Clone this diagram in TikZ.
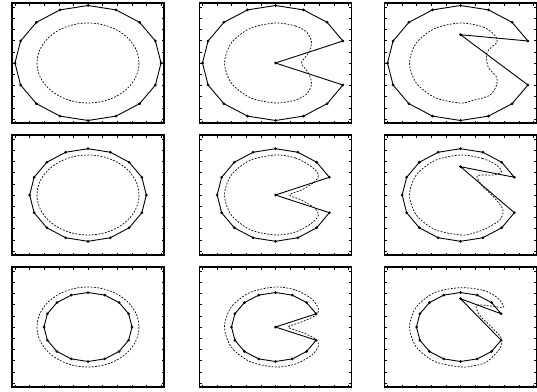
\documentclass[tikz,border=0pt]{standalone}
\tikzset{
    frame/.style={draw=black, line width=1.2pt},
    tickmark/.style={draw=black, line width=0.45pt},
    poly/.style={draw=black, line width=0.9pt, line join=round},
    target/.style={draw=black, line width=0.7pt, dash pattern=on 1.8pt off 1.5pt},
    vertex/.style={fill=black},
}
\newcommand{\axesbox}[2]{%
    \draw[frame] (#1-76,#2-60) rectangle (#1+76,#2+60);
    \foreach \k in {-5,...,5} {
        \draw[tickmark] ({#1+\k*14.6},#2-60) -- ++(0,2.5);
        \draw[tickmark] ({#1+\k*14.6},#2+60) -- ++(0,-2.5);
        \draw[tickmark] (#1-76,{#2+\k*11.2}) -- ++(2.5,0);
        \draw[tickmark] (#1+76,{#2+\k*11.2}) -- ++(-2.5,0);
    }}
\newcommand{\ring}[6]{%
    \draw[poly] (#1+#5,#2+#6) \foreach \k in {1,...,15} {-- ({#1+#3*cos(\k*22.5)},{#2-#4*sin(\k*22.5)})} -- cycle;
    \fill[vertex] (#1+#5,#2+#6) circle (1.5);
    \foreach \k in {1,...,15} \fill[vertex] ({#1+#3*cos(\k*22.5)},{#2-#4*sin(\k*22.5)}) circle (1.5);}
\newcommand{\fullring}[4]{%
    \draw[poly] (#1+#3,#2) \foreach \k in {1,...,15} {-- ({#1+#3*cos(\k*22.5)},{#2-#4*sin(\k*22.5)})} -- cycle;
    \foreach \k in {0,...,15} \fill[vertex] ({#1+#3*cos(\k*22.5)},{#2-#4*sin(\k*22.5)}) circle (1.5);}
\newcommand{\lefthalf}{(0,40) (-25.5,34.6) (-44.2,20) (-51,0) (-44.2,-20) (-25.5,-34.6)}
\newcommand{\target}[3]{%
    \draw[target,shift={(#1,#2)}] plot[smooth cycle] coordinates {#3 \lefthalf};}
\begin{document}
\begin{tikzpicture}[x=1pt,y=-1pt]
    \useasboundingbox (0,0) rectangle (537,391);
    \axesbox{88}{63}
    \axesbox{275.5}{63}
    \axesbox{460.5}{63}
    \axesbox{88}{195}
    \axesbox{275.5}{195}
    \axesbox{460.5}{195}
    \axesbox{88}{327}
    \axesbox{275.5}{327}
    \axesbox{460.5}{327}
    \draw[target] (88,63) ellipse (51 and 40);
    \draw[target] (88,195) ellipse (51 and 40);
    \draw[target] (88,327) ellipse (51 and 40);
    \target{275.5}{63}{(0,-40) (20,-37) (31,-31) (36,-21) (33,-10) (26,0) (33,10) (36,21) (31,31) (20,37)}
    \target{275.5}{195}{(0,-40) (20,-37) (36,-28.3) (43,-20) (39,-13) (26,-5) (14,0) (26,5) (39,13) (43,20) (36,28.3) (20,37)}
    \target{275.5}{327}{(0,-40) (20,-37) (36,-28.3) (43,-18) (40,-11.5) (26,-5) (12.7,0) (26,5) (40,12) (43,19) (36,28.3) (20,37)}
    \target{460.5}{63}{(0,-40) (22.7,-36) (34.3,-27.7) (36.7,-21) (31,-16) (26,-9.3) (27.7,4) (36,14) (36,22.3) (29.3,32.3) (12.7,37.3)}
    \target{460.5}{195}{(0,-40) (22,-36.5) (36,-30) (41,-23.3) (32.7,-20) (16.7,-19.3) (21,-10) (26,-5) (34.3,3.3) (41,11.7) (42.7,17.3) (39.3,25) (26,33.3) (12,38.5)}
    \target{460.5}{327}{(0,-39.3) (22.7,-36.7) (36,-30) (43.3,-20) (30,-21) (16,-21.7) (19.3,-11.7) (32.7,1.7) (41,11.7) (39.3,21.7) (26,35) (12,39)}
    \fullring{88}{63}{73}{57.5}
    \fullring{88}{195}{58.3}{46.3}
    \fullring{88}{327}{44}{34.5}
    \ring{275.5}{63}{73}{57.5}{0}{0}
    \ring{275.5}{195}{58.3}{46.3}{0}{0}
    \ring{275.5}{327}{44}{34.5}{0}{0}
    \ring{460.5}{63}{73}{57.5}{0}{-28.3}
    \ring{460.5}{195}{58.3}{46.3}{0}{-28.3}
    \ring{460.5}{327}{44}{34.5}{0}{-28.3}
\end{tikzpicture}
\end{document}
